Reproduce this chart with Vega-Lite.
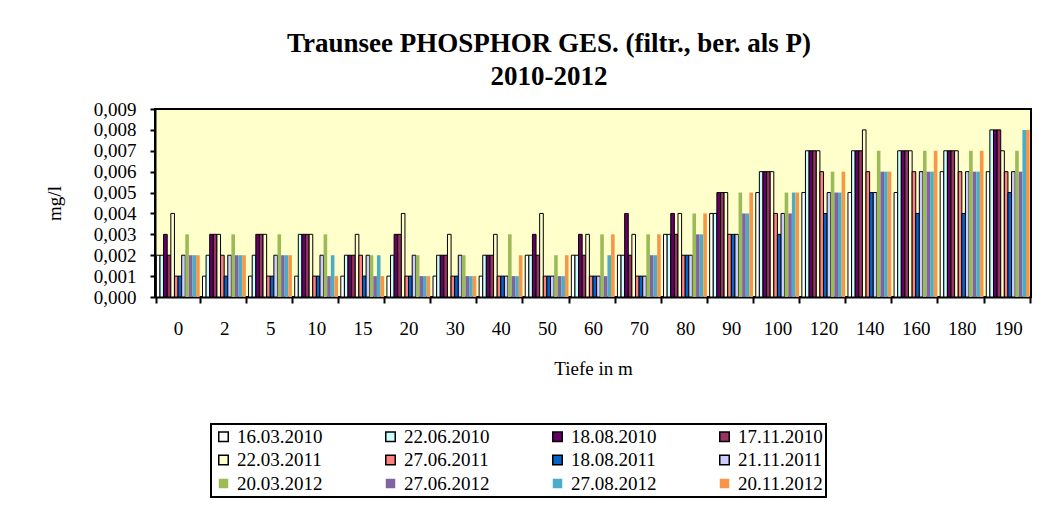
{
  "$schema": "https://vega.github.io/schema/vega-lite/v6.json",
  "width": 876,
  "height": 188,
  "autosize": {"type": "none"},
  "padding": {"left": 155, "top": 109, "right": 14, "bottom": 215},
  "background": "white",
  "title": {
    "text": ["Traunsee PHOSPHOR GES. (filtr., ber. als P)", "2010-2012"],
    "font": "Liberation Serif",
    "fontSize": 27,
    "fontWeight": "bold",
    "color": "black",
    "anchor": "middle",
    "dx": -44,
    "offset": 9,
    "lineHeight": 33
  },
  "data": {
    "values": [
      {"t":"0","s":"16.03.2010","v":0.002},{"t":"0","s":"22.06.2010","v":0.002},{"t":"0","s":"18.08.2010","v":0.003},{"t":"0","s":"17.11.2010","v":0.002},{"t":"0","s":"22.03.2011","v":0.004},{"t":"0","s":"27.06.2011","v":0.001},{"t":"0","s":"18.08.2011","v":0.001},{"t":"0","s":"21.11.2011","v":0.002},{"t":"0","s":"20.03.2012","v":0.003},{"t":"0","s":"27.06.2012","v":0.002},{"t":"0","s":"27.08.2012","v":0.002},{"t":"0","s":"20.11.2012","v":0.002},
      {"t":"2","s":"16.03.2010","v":0.001},{"t":"2","s":"22.06.2010","v":0.002},{"t":"2","s":"18.08.2010","v":0.003},{"t":"2","s":"17.11.2010","v":0.003},{"t":"2","s":"22.03.2011","v":0.003},{"t":"2","s":"27.06.2011","v":0.002},{"t":"2","s":"18.08.2011","v":0.001},{"t":"2","s":"21.11.2011","v":0.002},{"t":"2","s":"20.03.2012","v":0.003},{"t":"2","s":"27.06.2012","v":0.002},{"t":"2","s":"27.08.2012","v":0.002},{"t":"2","s":"20.11.2012","v":0.002},
      {"t":"5","s":"16.03.2010","v":0.001},{"t":"5","s":"22.06.2010","v":0.002},{"t":"5","s":"18.08.2010","v":0.003},{"t":"5","s":"17.11.2010","v":0.003},{"t":"5","s":"22.03.2011","v":0.003},{"t":"5","s":"27.06.2011","v":0.001},{"t":"5","s":"18.08.2011","v":0.001},{"t":"5","s":"21.11.2011","v":0.002},{"t":"5","s":"20.03.2012","v":0.003},{"t":"5","s":"27.06.2012","v":0.002},{"t":"5","s":"27.08.2012","v":0.002},{"t":"5","s":"20.11.2012","v":0.002},
      {"t":"10","s":"16.03.2010","v":0.001},{"t":"10","s":"22.06.2010","v":0.003},{"t":"10","s":"18.08.2010","v":0.003},{"t":"10","s":"17.11.2010","v":0.003},{"t":"10","s":"22.03.2011","v":0.003},{"t":"10","s":"27.06.2011","v":0.001},{"t":"10","s":"18.08.2011","v":0.001},{"t":"10","s":"21.11.2011","v":0.002},{"t":"10","s":"20.03.2012","v":0.003},{"t":"10","s":"27.06.2012","v":0.001},{"t":"10","s":"27.08.2012","v":0.002},{"t":"10","s":"20.11.2012","v":0.001},
      {"t":"15","s":"16.03.2010","v":0.001},{"t":"15","s":"22.06.2010","v":0.002},{"t":"15","s":"18.08.2010","v":0.002},{"t":"15","s":"17.11.2010","v":0.002},{"t":"15","s":"22.03.2011","v":0.003},{"t":"15","s":"27.06.2011","v":0.002},{"t":"15","s":"18.08.2011","v":0.001},{"t":"15","s":"21.11.2011","v":0.002},{"t":"15","s":"20.03.2012","v":0.002},{"t":"15","s":"27.06.2012","v":0.001},{"t":"15","s":"27.08.2012","v":0.002},{"t":"15","s":"20.11.2012","v":0.001},
      {"t":"20","s":"16.03.2010","v":0.001},{"t":"20","s":"22.06.2010","v":0.002},{"t":"20","s":"18.08.2010","v":0.003},{"t":"20","s":"17.11.2010","v":0.003},{"t":"20","s":"22.03.2011","v":0.004},{"t":"20","s":"27.06.2011","v":0.001},{"t":"20","s":"18.08.2011","v":0.001},{"t":"20","s":"21.11.2011","v":0.002},{"t":"20","s":"20.03.2012","v":0.002},{"t":"20","s":"27.06.2012","v":0.001},{"t":"20","s":"27.08.2012","v":0.001},{"t":"20","s":"20.11.2012","v":0.001},
      {"t":"30","s":"16.03.2010","v":0.001},{"t":"30","s":"22.06.2010","v":0.002},{"t":"30","s":"18.08.2010","v":0.002},{"t":"30","s":"17.11.2010","v":0.002},{"t":"30","s":"22.03.2011","v":0.003},{"t":"30","s":"27.06.2011","v":0.001},{"t":"30","s":"18.08.2011","v":0.001},{"t":"30","s":"21.11.2011","v":0.002},{"t":"30","s":"20.03.2012","v":0.002},{"t":"30","s":"27.06.2012","v":0.001},{"t":"30","s":"27.08.2012","v":0.001},{"t":"30","s":"20.11.2012","v":0.001},
      {"t":"40","s":"16.03.2010","v":0.001},{"t":"40","s":"22.06.2010","v":0.002},{"t":"40","s":"18.08.2010","v":0.002},{"t":"40","s":"17.11.2010","v":0.002},{"t":"40","s":"22.03.2011","v":0.003},{"t":"40","s":"27.06.2011","v":0.001},{"t":"40","s":"18.08.2011","v":0.001},{"t":"40","s":"21.11.2011","v":0.001},{"t":"40","s":"20.03.2012","v":0.003},{"t":"40","s":"27.06.2012","v":0.001},{"t":"40","s":"27.08.2012","v":0.001},{"t":"40","s":"20.11.2012","v":0.002},
      {"t":"50","s":"16.03.2010","v":0.002},{"t":"50","s":"22.06.2010","v":0.002},{"t":"50","s":"18.08.2010","v":0.003},{"t":"50","s":"17.11.2010","v":0.002},{"t":"50","s":"22.03.2011","v":0.004},{"t":"50","s":"27.06.2011","v":0.001},{"t":"50","s":"18.08.2011","v":0.001},{"t":"50","s":"21.11.2011","v":0.001},{"t":"50","s":"20.03.2012","v":0.002},{"t":"50","s":"27.06.2012","v":0.001},{"t":"50","s":"27.08.2012","v":0.001},{"t":"50","s":"20.11.2012","v":0.002},
      {"t":"60","s":"16.03.2010","v":0.002},{"t":"60","s":"22.06.2010","v":0.002},{"t":"60","s":"18.08.2010","v":0.003},{"t":"60","s":"17.11.2010","v":0.002},{"t":"60","s":"22.03.2011","v":0.003},{"t":"60","s":"27.06.2011","v":0.001},{"t":"60","s":"18.08.2011","v":0.001},{"t":"60","s":"21.11.2011","v":0.001},{"t":"60","s":"20.03.2012","v":0.003},{"t":"60","s":"27.06.2012","v":0.001},{"t":"60","s":"27.08.2012","v":0.002},{"t":"60","s":"20.11.2012","v":0.003},
      {"t":"70","s":"16.03.2010","v":0.002},{"t":"70","s":"22.06.2010","v":0.002},{"t":"70","s":"18.08.2010","v":0.004},{"t":"70","s":"17.11.2010","v":0.002},{"t":"70","s":"22.03.2011","v":0.003},{"t":"70","s":"27.06.2011","v":0.001},{"t":"70","s":"18.08.2011","v":0.001},{"t":"70","s":"21.11.2011","v":0.001},{"t":"70","s":"20.03.2012","v":0.003},{"t":"70","s":"27.06.2012","v":0.002},{"t":"70","s":"27.08.2012","v":0.002},{"t":"70","s":"20.11.2012","v":0.003},
      {"t":"80","s":"16.03.2010","v":0.003},{"t":"80","s":"22.06.2010","v":0.003},{"t":"80","s":"18.08.2010","v":0.004},{"t":"80","s":"17.11.2010","v":0.003},{"t":"80","s":"22.03.2011","v":0.004},{"t":"80","s":"27.06.2011","v":0.002},{"t":"80","s":"18.08.2011","v":0.002},{"t":"80","s":"21.11.2011","v":0.002},{"t":"80","s":"20.03.2012","v":0.004},{"t":"80","s":"27.06.2012","v":0.003},{"t":"80","s":"27.08.2012","v":0.003},{"t":"80","s":"20.11.2012","v":0.004},
      {"t":"90","s":"16.03.2010","v":0.004},{"t":"90","s":"22.06.2010","v":0.004},{"t":"90","s":"18.08.2010","v":0.005},{"t":"90","s":"17.11.2010","v":0.005},{"t":"90","s":"22.03.2011","v":0.005},{"t":"90","s":"27.06.2011","v":0.003},{"t":"90","s":"18.08.2011","v":0.003},{"t":"90","s":"21.11.2011","v":0.003},{"t":"90","s":"20.03.2012","v":0.005},{"t":"90","s":"27.06.2012","v":0.004},{"t":"90","s":"27.08.2012","v":0.004},{"t":"90","s":"20.11.2012","v":0.005},
      {"t":"100","s":"16.03.2010","v":0.005},{"t":"100","s":"22.06.2010","v":0.006},{"t":"100","s":"18.08.2010","v":0.006},{"t":"100","s":"17.11.2010","v":0.006},{"t":"100","s":"22.03.2011","v":0.006},{"t":"100","s":"27.06.2011","v":0.004},{"t":"100","s":"18.08.2011","v":0.003},{"t":"100","s":"21.11.2011","v":0.004},{"t":"100","s":"20.03.2012","v":0.005},{"t":"100","s":"27.06.2012","v":0.004},{"t":"100","s":"27.08.2012","v":0.005},{"t":"100","s":"20.11.2012","v":0.005},
      {"t":"120","s":"16.03.2010","v":0.005},{"t":"120","s":"22.06.2010","v":0.007},{"t":"120","s":"18.08.2010","v":0.007},{"t":"120","s":"17.11.2010","v":0.007},{"t":"120","s":"22.03.2011","v":0.007},{"t":"120","s":"27.06.2011","v":0.006},{"t":"120","s":"18.08.2011","v":0.004},{"t":"120","s":"21.11.2011","v":0.005},{"t":"120","s":"20.03.2012","v":0.006},{"t":"120","s":"27.06.2012","v":0.005},{"t":"120","s":"27.08.2012","v":0.005},{"t":"120","s":"20.11.2012","v":0.006},
      {"t":"140","s":"16.03.2010","v":0.005},{"t":"140","s":"22.06.2010","v":0.007},{"t":"140","s":"18.08.2010","v":0.007},{"t":"140","s":"17.11.2010","v":0.007},{"t":"140","s":"22.03.2011","v":0.008},{"t":"140","s":"27.06.2011","v":0.006},{"t":"140","s":"18.08.2011","v":0.005},{"t":"140","s":"21.11.2011","v":0.005},{"t":"140","s":"20.03.2012","v":0.007},{"t":"140","s":"27.06.2012","v":0.006},{"t":"140","s":"27.08.2012","v":0.006},{"t":"140","s":"20.11.2012","v":0.006},
      {"t":"160","s":"16.03.2010","v":0.005},{"t":"160","s":"22.06.2010","v":0.007},{"t":"160","s":"18.08.2010","v":0.007},{"t":"160","s":"17.11.2010","v":0.007},{"t":"160","s":"22.03.2011","v":0.007},{"t":"160","s":"27.06.2011","v":0.006},{"t":"160","s":"18.08.2011","v":0.004},{"t":"160","s":"21.11.2011","v":0.006},{"t":"160","s":"20.03.2012","v":0.007},{"t":"160","s":"27.06.2012","v":0.006},{"t":"160","s":"27.08.2012","v":0.006},{"t":"160","s":"20.11.2012","v":0.007},
      {"t":"180","s":"16.03.2010","v":0.006},{"t":"180","s":"22.06.2010","v":0.007},{"t":"180","s":"18.08.2010","v":0.007},{"t":"180","s":"17.11.2010","v":0.007},{"t":"180","s":"22.03.2011","v":0.007},{"t":"180","s":"27.06.2011","v":0.006},{"t":"180","s":"18.08.2011","v":0.004},{"t":"180","s":"21.11.2011","v":0.006},{"t":"180","s":"20.03.2012","v":0.007},{"t":"180","s":"27.06.2012","v":0.006},{"t":"180","s":"27.08.2012","v":0.006},{"t":"180","s":"20.11.2012","v":0.007},
      {"t":"190","s":"16.03.2010","v":0.006},{"t":"190","s":"22.06.2010","v":0.008},{"t":"190","s":"18.08.2010","v":0.008},{"t":"190","s":"17.11.2010","v":0.008},{"t":"190","s":"22.03.2011","v":0.007},{"t":"190","s":"27.06.2011","v":0.006},{"t":"190","s":"18.08.2011","v":0.005},{"t":"190","s":"21.11.2011","v":0.006},{"t":"190","s":"20.03.2012","v":0.007},{"t":"190","s":"27.06.2012","v":0.006},{"t":"190","s":"27.08.2012","v":0.008},{"t":"190","s":"20.11.2012","v":0.008}
    ]
  },
  "mark": {"type": "bar", "strokeWidth": 1},
  "encoding": {
    "x": {
      "field": "t", "type": "nominal", "sort": null,
      "scale": {"paddingInner": 0.06, "paddingOuter": 0.03},
      "title": "Tiefe in m",
      "axis": {"labelAngle": 0, "tickBand": "extent", "tickSize": 6, "labelPadding": 16, "titlePadding": 21}
    },
    "xOffset": {"field": "s", "type": "nominal", "sort": null, "scale": {"paddingInner": 0}},
    "y": {
      "field": "v", "type": "quantitative",
      "scale": {"domain": [0, 0.009], "nice": false},
      "title": "mg/l",
      "axis": {
        "values": [0, 0.001, 0.002, 0.003, 0.004, 0.005, 0.006, 0.007, 0.008, 0.009],
        "format": ".3f",
        "labelExpr": "replace(datum.label, '.', ',')",
        "tickSize": 5, "labelPadding": 14, "titlePadding": 29
      }
    },
    "color": {
      "field": "s", "type": "nominal", "sort": null,
      "scale": {
        "domain": ["16.03.2010","22.06.2010","18.08.2010","17.11.2010","22.03.2011","27.06.2011","18.08.2011","21.11.2011","20.03.2012","27.06.2012","27.08.2012","20.11.2012"],
        "range": ["#FFFFFF","#CCFFFF","#660066","#993366","#FFFFCC","#FF8080","#0066CC","#CCCCFF","#9BBB59","#8064A2","#4BACC6","#F79646"]
      },
      "legend": {
        "title": null, "orient": "none", "legendX": 56, "legendY": 315,
        "direction": "horizontal", "columns": 4, "columnPadding": 58, "rowPadding": 3.5,
        "symbolType": "square", "symbolSize": 90, "symbolStrokeWidth": 1.5,
        "labelFont": "Liberation Serif", "labelFontSize": 19, "labelColor": "black", "labelOffset": 4,
        "padding": 3, "strokeColor": "black", "gridAlign": "all"
      }
    },
    "stroke": {
      "field": "s", "type": "nominal", "sort": null,
      "scale": {
        "domain": ["16.03.2010","22.06.2010","18.08.2010","17.11.2010","22.03.2011","27.06.2011","18.08.2011","21.11.2011","20.03.2012","27.06.2012","27.08.2012","20.11.2012"],
        "range": ["black","black","black","black","black","black","black","black","transparent","transparent","transparent","transparent"]
      },
      "legend": {
        "title": null, "orient": "none", "legendX": 56, "legendY": 315,
        "direction": "horizontal", "columns": 4, "columnPadding": 58, "rowPadding": 3.5,
        "symbolType": "square", "symbolSize": 90, "symbolStrokeWidth": 1.5,
        "labelFont": "Liberation Serif", "labelFontSize": 19, "labelColor": "black", "labelOffset": 4,
        "padding": 3, "strokeColor": "black", "gridAlign": "all"
      }
    }
  },
  "config": {
    "view": {"fill": "#FFFFCC", "stroke": "black", "strokeWidth": 2},
    "legend": {"strokeWidth": 2},
    "axis": {
      "labelFont": "Liberation Serif", "labelFontSize": 19, "labelColor": "black",
      "titleFont": "Liberation Serif", "titleFontSize": 19, "titleFontWeight": "normal", "titleColor": "black",
      "tickColor": "black", "tickWidth": 2, "domainColor": "black", "domainWidth": 2, "grid": false
    }
  }
}
